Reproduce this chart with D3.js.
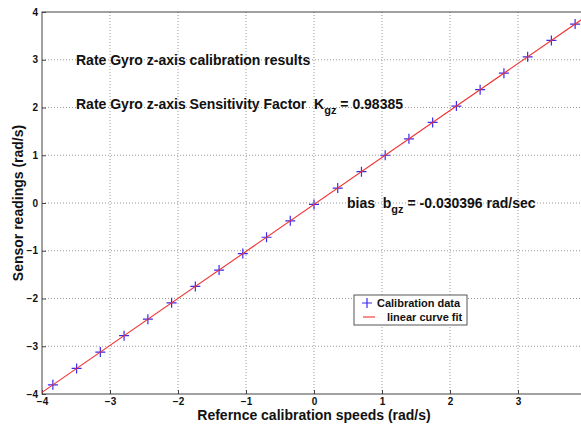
<!DOCTYPE html>
<html><head><meta charset="utf-8">
<script src="https://cdn.jsdelivr.net/npm/d3@7"></script>
<style>
html,body{margin:0;padding:0;background:#fff;}
svg{display:block;font-family:"Liberation Sans",Arial,sans-serif;}
</style></head>
<body><svg id="c" width="581" height="425"></svg>
<script>
const refSpeeds = [-3.840,-3.491,-3.142,-2.793,-2.443,-2.094,-1.745,-1.396,-1.047,-0.698,-0.349,0,0.349,0.698,1.047,1.396,1.745,2.094,2.443,2.793,3.142,3.491,3.840];
const sensorReadings = [-3.808,-3.465,-3.122,-2.778,-2.434,-2.091,-1.747,-1.404,-1.060,-0.717,-0.374,-0.030,0.313,0.656,1.000,1.343,1.687,2.030,2.373,2.718,3.061,3.404,3.748];
const fitX = [-4, 4];
const fitY = [-3.966, 3.905];
const xTicks = [-4,-3,-2,-1,0,1,2,3];
const yTicks = [-4,-3,-2,-1,0,1,2,3,4];
const gridX = [-3,-2,-1,0,1,2,3];
const gridY = [-3,-2,-1,0,1,2,3];

const svg = d3.select("#c");
const L=42, R=586, T=12, B=394;
const x = d3.scaleLinear().domain([-4,4]).range([L,R]);
const y = d3.scaleLinear().domain([-4,4]).range([B,T]);

// grid
const g = svg.append("g");
g.selectAll(".gx").data(gridX).enter().append("line")
  .attr("x1",d=>x(d)).attr("x2",d=>x(d)).attr("y1",T).attr("y2",B)
  .attr("stroke","#9a9a9a").attr("stroke-width",1).attr("stroke-dasharray","1,2");
g.selectAll(".gy").data(gridY).enter().append("line")
  .attr("y1",d=>y(d)).attr("y2",d=>y(d)).attr("x1",L).attr("x2",R)
  .attr("stroke","#9a9a9a").attr("stroke-width",1).attr("stroke-dasharray","1,2");

// box
svg.append("rect").attr("x",L).attr("y",T).attr("width",R-L).attr("height",B-T)
  .attr("fill","none").attr("stroke","#444").attr("stroke-width",1);

// axes
const xAx = svg.append("g").attr("transform",`translate(0,${B})`)
  .call(d3.axisBottom(x).tickValues(xTicks).tickSize(-4).tickPadding(4).tickFormat(d3.format("d")));
const yAx = svg.append("g").attr("transform",`translate(${L},0)`)
  .call(d3.axisLeft(y).tickValues(yTicks).tickSize(-4).tickPadding(4).tickFormat(d3.format("d")));
[xAx,yAx].forEach(a=>{
  a.select(".domain").remove();
  a.selectAll("line").attr("stroke","#444");
  a.selectAll("text").attr("font-family","Liberation Sans, Arial, sans-serif")
   .attr("font-size",10).attr("font-weight","bold").attr("fill","#111");
});

// markers
const pts = refSpeeds.map((v,i)=>[v,sensorReadings[i]]);
const s=5;
svg.append("g").selectAll("path").data(pts).enter().append("path")
  .attr("d",d=>`M${x(d[0])-s},${y(d[1])}H${x(d[0])+s}M${x(d[0])},${y(d[1])-s}V${y(d[1])+s}`)
  .attr("stroke","#3a2aee").attr("stroke-width",1.2).attr("fill","none");

// fit line
svg.append("path").datum(fitX.map((v,i)=>[v,fitY[i]]))
  .attr("d",d3.line().x(d=>x(d[0])).y(d=>y(d[1])))
  .attr("stroke","#f03030").attr("stroke-width",1.1).attr("fill","none");

// annotations
const ann = svg.append("g").attr("font-weight","bold").attr("font-size",14).attr("fill","#111");
ann.append("text").attr("x",76).attr("y",65).text("Rate Gyro z-axis calibration results");
const t2 = ann.append("text").attr("x",76).attr("y",109).attr("xml:space","preserve");
t2.append("tspan").text("Rate Gyro z-axis Sensitivity Factor  K");
t2.append("tspan").attr("dy",5).attr("font-size",11).text("gz");
t2.append("tspan").attr("dy",-5).text(" = 0.98385");
const t3 = ann.append("text").attr("x",347).attr("y",208).attr("xml:space","preserve");
t3.append("tspan").text("bias  b");
t3.append("tspan").attr("dy",5).attr("font-size",11).text("gz");
t3.append("tspan").attr("dy",-5).text(" = -0.030396 rad/sec");

// axis labels
svg.append("text").attr("x",314).attr("y",420).attr("text-anchor","middle")
  .attr("font-size",14).attr("font-weight","bold").attr("fill","#111")
  .text("Refernce calibration speeds (rad/s)");
svg.append("text").attr("transform","translate(23,203) rotate(-90)").attr("text-anchor","middle")
  .attr("font-size",14).attr("font-weight","bold").attr("fill","#111")
  .text("Sensor readings (rad/s)");

// legend
const lg = svg.append("g");
lg.append("rect").attr("x",354).attr("y",295).attr("width",113).attr("height",30)
  .attr("fill","#fff").attr("stroke","#555").attr("stroke-width",1);
lg.append("path").attr("d","M362,303H372M367,298V308").attr("stroke","#3a2aee").attr("stroke-width",1.2);
lg.append("line").attr("x1",363).attr("x2",375).attr("y1",317).attr("y2",317).attr("stroke","#f03030").attr("stroke-width",1.1);
lg.append("text").attr("x",377).attr("y",307).attr("font-size",11).attr("font-weight","bold").attr("fill","#111").text("Calibration data");
lg.append("text").attr("x",387).attr("y",321).attr("font-size",11).attr("font-weight","bold").attr("fill","#111").text("linear curve fit");
</script></body></html>
